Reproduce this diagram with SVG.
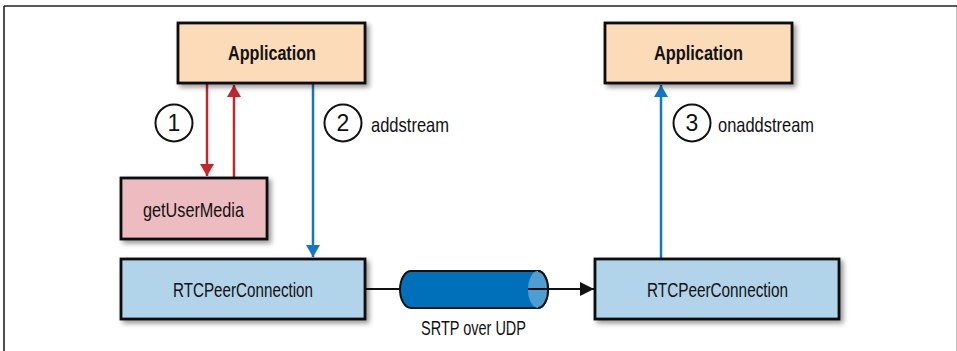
<svg xmlns="http://www.w3.org/2000/svg" width="957" height="351" viewBox="0 0 957 351">
<style>
.box{stroke:#111;stroke-width:2.8}
.app{fill:#fcdcb8}
.gum{fill:#ecbcc0}
.rtc{fill:#b1d4ea}
.t{font-family:"Liberation Sans",Arial,sans-serif;font-size:21px;fill:#111;text-anchor:middle}
.b{font-weight:bold}
.lbl{font-family:"Liberation Sans",Arial,sans-serif;font-size:21px;fill:#111}
.red{stroke:#c1272d;stroke-width:2.5;fill:none}
.blue{stroke:#1277c4;stroke-width:2.5;fill:none}
.blk{stroke:#111;stroke-width:2;fill:none}
.circ{fill:#fff;stroke:#111;stroke-width:2}
.num{font-family:"Liberation Sans",Arial,sans-serif;font-size:23px;fill:#111;text-anchor:middle}
</style>
<defs>
<filter id="sh" x="-10%" y="-20%" width="130%" height="150%">
<feDropShadow dx="3" dy="3" stdDeviation="2.5" flood-color="#000" flood-opacity="0.4"/>
</filter>
<marker id="aR" viewBox="0 0 12 14" refX="12" refY="7" markerWidth="12" markerHeight="14" markerUnits="userSpaceOnUse" orient="auto"><path d="M0,0 L12,7 L0,14 Z" fill="#c1272d"/></marker>
<marker id="aB" viewBox="0 0 12 14" refX="12" refY="7" markerWidth="12" markerHeight="14" markerUnits="userSpaceOnUse" orient="auto"><path d="M0,0 L12,7 L0,14 Z" fill="#1277c4"/></marker>
<marker id="aK" viewBox="0 0 14 14" refX="14" refY="7" markerWidth="14" markerHeight="14" markerUnits="userSpaceOnUse" orient="auto"><path d="M0,0 L14,7 L0,14 Z" fill="#111"/></marker>
</defs>
<rect width="957" height="351" fill="#fff"/>
<g id="frame">
<line x1="4" y1="6" x2="957" y2="6" stroke="#222" stroke-width="1.6"/>
<line x1="4" y1="6" x2="4" y2="351" stroke="#222" stroke-width="1.6"/>
<line x1="956.5" y1="7" x2="956.5" y2="351" stroke="#bbb" stroke-width="1"/>
</g>
<g id="connectors">
<line class="red" x1="207" y1="84" x2="207" y2="176" marker-end="url(#aR)"/>
<line class="red" x1="234" y1="177" x2="234" y2="85" marker-end="url(#aR)"/>
<line class="blue" x1="313" y1="84" x2="313" y2="257" marker-end="url(#aB)"/>
<line class="blue" x1="661" y1="258" x2="661" y2="85" marker-end="url(#aB)"/>
<line class="blk" x1="366" y1="289" x2="400" y2="289"/>
</g>
<g id="app-left">
<rect class="box app" x="178" y="23" width="187" height="60" filter="url(#sh)"/>
<text class="t b" x="272" y="60" textLength="88" lengthAdjust="spacingAndGlyphs">Application</text>
</g>
<g id="app-right">
<rect class="box app" x="605" y="23" width="187" height="60" filter="url(#sh)"/>
<text class="t b" x="698.5" y="60" textLength="89" lengthAdjust="spacingAndGlyphs">Application</text>
</g>
<g id="getusermedia">
<rect class="box gum" x="121" y="178" width="146" height="61" filter="url(#sh)"/>
<text class="t" x="193.5" y="216.5" textLength="101" lengthAdjust="spacingAndGlyphs">getUserMedia</text>
</g>
<g id="rtc-left">
<rect class="box rtc" x="121" y="259" width="244" height="60" filter="url(#sh)"/>
<text class="t" x="243" y="296.5" textLength="140" lengthAdjust="spacingAndGlyphs">RTCPeerConnection</text>
</g>
<g id="rtc-right">
<rect class="box rtc" x="595" y="259" width="244" height="60" filter="url(#sh)"/>
<text class="t" x="717.5" y="296.5" textLength="141" lengthAdjust="spacingAndGlyphs">RTCPeerConnection</text>
</g>
<g id="pipe">
<path d="M411,271 L538,271 A10,18.5 0 0 1 538,308 L411,308 A11,18.5 0 0 1 411,271 Z" fill="#0070bb" stroke="#111" stroke-width="2"/>
<ellipse cx="538" cy="289.5" rx="10" ry="18.5" fill="#4d9fd3"/>
<path d="M538,271 A10,18.5 0 0 1 538,308" fill="none" stroke="#111" stroke-width="2"/>
<line class="blk" x1="528" y1="289" x2="594" y2="289" marker-end="url(#aK)"/>
<text class="t" x="473.5" y="335" textLength="105" lengthAdjust="spacingAndGlyphs">SRTP over UDP</text>
</g>
<g id="step1">
<circle class="circ" cx="174" cy="123" r="18.5"/>
<text class="num" x="174" y="131">1</text>
</g>
<g id="step2">
<circle class="circ" cx="343" cy="123" r="18.5"/>
<text class="num" x="343" y="131">2</text>
<text class="lbl" x="371" y="132" textLength="78" lengthAdjust="spacingAndGlyphs">addstream</text>
</g>
<g id="step3">
<circle class="circ" cx="692" cy="123" r="18.5"/>
<text class="num" x="692" y="131">3</text>
<text class="lbl" x="718" y="132" textLength="96" lengthAdjust="spacingAndGlyphs">onaddstream</text>
</g>
</svg>
